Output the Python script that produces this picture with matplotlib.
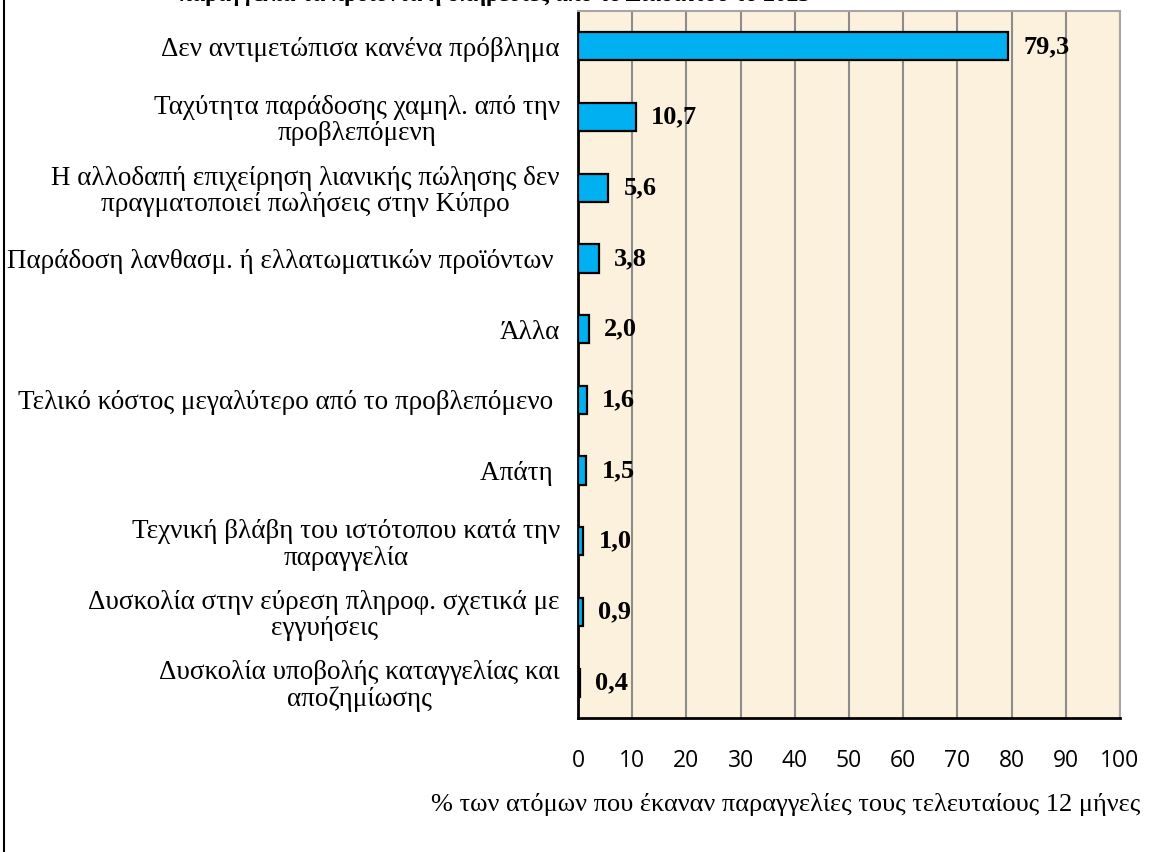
import matplotlib
matplotlib.use("Agg")
import matplotlib.pyplot as plt

categories = [
    "Δεν αντιμετώπισα κανένα πρόβλημα",
    "Ταχύτητα παράδοσης χαμηλ. από την\nπροβλεπόμενη",
    "Η αλλοδαπή επιχείρηση λιανικής πώλησης δεν\nπραγματοποιεί πωλήσεις στην Κύπρο",
    "Παράδοση λανθασμ. ή ελλατωματικών προϊόντων ",
    "Άλλα",
    "Τελικό κόστος μεγαλύτερο από το προβλεπόμενο ",
    "Απάτη ",
    "Τεχνική βλάβη του ιστότοπου κατά την\nπαραγγελία",
    "Δυσκολία στην εύρεση πληροφ. σχετικά με\nεγγυήσεις",
    "Δυσκολία υποβολής καταγγελίας και\nαποζημίωσης",
]
values = [79.3, 10.7, 5.6, 3.8, 2.0, 1.6, 1.5, 1.0, 0.9, 0.4]
value_labels = ["79,3", "10,7", "5,6", "3,8", "2,0", "1,6", "1,5", "1,0", "0,9", "0,4"]
xticks = [0, 10, 20, 30, 40, 50, 60, 70, 80, 90, 100]
xlabel = "% των ατόμων που έκαναν παραγγελίες τους τελευταίους 12 μήνες"
title = "παραγγελία τα προϊόντα ή υπηρεσίες από το Διαδίκτυο το 2023"

W, H = 1150, 852
fig = plt.figure(figsize=(W / 100, H / 100), dpi=100)
left, right, top, bottom = 578, 1120, 11, 718
ax = fig.add_axes([left / W, 1 - bottom / H, (right - left) / W, (bottom - top) / H])
ax.set_facecolor("#FCF1DC")

n = len(categories)
ypos = list(range(n))
ax.barh(ypos, values, height=0.4, color="#00B0F0", edgecolor="black", linewidth=1.6, zorder=3)
ax.set_xlim(0, 100)
ax.set_ylim(n - 0.5, -0.5)
ax.set_xticks(xticks)
ax.set_xticklabels([str(t) for t in xticks], fontfamily="Open Sans", fontsize=16.5)
ax.tick_params(axis="x", length=0, pad=22)
ax.tick_params(axis="y", length=0, pad=13)
ax.set_yticks(ypos)
ax.set_yticklabels(categories, fontfamily="Liberation Serif", fontsize=19.5,
                   multialignment="center", linespacing=1.07)
ax.grid(axis="x", color="#8C8C8C", linewidth=1.5, zorder=1)
for sp in ["top", "right"]:
    ax.spines[sp].set_color("#A6A6A6")
    ax.spines[sp].set_linewidth(1.5)
for sp in ["left", "bottom"]:
    ax.spines[sp].set_color("black")
    ax.spines[sp].set_linewidth(2)

for y, v, lab in zip(ypos, values, value_labels):
    ax.annotate(lab, (v, y), xytext=(11, 0), textcoords="offset points",
                ha="left", va="center", fontfamily="Liberation Serif",
                fontweight="bold", fontsize=19, zorder=4)

fig.text(1140 / W, 1 - 805 / H, xlabel, ha="right", va="center",
         fontfamily="Liberation Serif", fontsize=19)
fig.text(495 / W, 1.0 - 1 / H, title, ha="center", va="baseline",
         fontfamily="Liberation Serif", fontweight="bold", fontsize=17)

# left figure border
fig.add_artist(plt.Line2D([4 / W, 4 / W], [0, 1], transform=fig.transFigure,
                          color="black", linewidth=1.5))

fig.savefig("out.png", dpi=100)
